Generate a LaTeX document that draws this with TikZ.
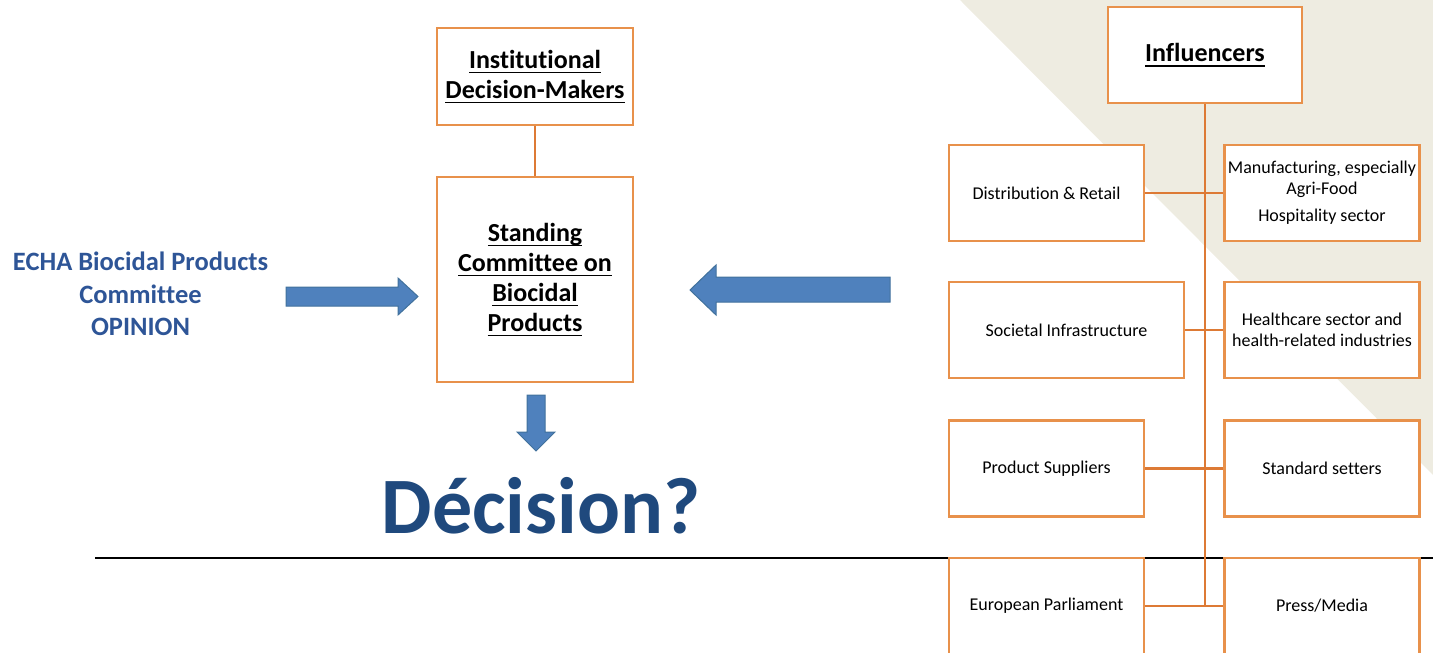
\documentclass[tikz,border=0pt]{standalone}
\usepackage{fontspec}
\setmainfont{Carlito}[Ligatures=NoCommon]
\definecolor{boxorange}{HTML}{E8914B}
\definecolor{linkorange}{HTML}{DD7A35}
\definecolor{arrowblue}{HTML}{4F81BD}
\definecolor{arrowedge}{HTML}{41719C}
\definecolor{titleblue}{HTML}{1F497D}
\definecolor{echablue}{HTML}{2E5597}
\definecolor{backtan}{HTML}{EEECE1}
\newcommand{\ulin}[1]{\setbox0\hbox{#1}\rlap{\copy0}\rule[-5pt]{\wd0}{1.3pt}}
\tikzset{
    bigbox/.style={draw=boxorange,line width=2.3pt,fill=white,align=center,minimum width=196pt,
        font=\fontsize{26}{30}\selectfont\bfseries},
    smallbox/.style={draw=boxorange,line width=2.3pt,fill=white,align=center,minimum width=195pt,
        minimum height=96pt,inner sep=1pt,font=\fontsize{18}{21}\selectfont},
    link/.style={draw=linkorange,line width=2.3pt},
    blockarrow/.style={fill=arrowblue,draw=arrowedge,line width=1pt,line join=miter}
}
\begin{document}
\begin{tikzpicture}[x=1pt,y=-1pt]
    \useasboundingbox (0,0) rectangle (1433,653);
    \fill[backtan] (960,0) -- (1433,0) -- (1433,475) -- cycle;
    \draw[line width=1.2pt] (95,558) -- (1433,558);

    \node[bigbox,minimum height=97pt] (IDM) at (535,76.5) {\ulin{Institutional}\\\ulin{Decision-Makers}};
    \node[bigbox,minimum height=205pt] (SCB) at (535,279.5) {\ulin{Standing}\\\ulin{Committee on}\\\ulin{Biocidal}\\\ulin{Products}};
    \node[text=echablue,align=center,font=\fontsize{26.5}{32.5}\selectfont\bfseries] (ECHA) at (140.5,294) {ECHA Biocidal Products\\Committee\\OPINION};
    \node[text=titleblue,anchor=base,font=\fontsize{80}{88}\selectfont\bfseries] (DEC) at (541,533) {Décision?};

    \node[bigbox,minimum width=194pt,minimum height=96pt] (INF) at (1205,55) {\ulin{Influencers}};
    \node[smallbox] (D1) at (1046.5,193) {Distribution \& Retail};
    \node[smallbox] (M1) at (1322,193) {Manufacturing, especially\\Agri-Food\\[6pt]Hospitality sector};
    \node[smallbox,minimum width=235pt] (S2) at (1066.5,330) {Societal Infrastructure};
    \node[smallbox] (H2) at (1322,330) {Healthcare sector and\\health-related industries};
    \node[smallbox] (P3) at (1046.5,468.5) {Product Suppliers};
    \node[smallbox] (T3) at (1322,468.5) {Standard setters};
    \node[smallbox] (E4) at (1046.5,606) {European Parliament};
    \node[smallbox] (PM4) at (1322,606) {Press/Media};

    % links
    \path[link] (IDM) -- (SCB);
    \path[link] (INF.south) -- (INF.south |- PM4.west);
    \path[link] (D1.east) -- (M1.west);
    \path[link] (S2.east) -- (H2.west);
    \path[link] (P3.east) -- (T3.west);
    \path[link] (E4.east) -- (PM4.west);

    % block arrows
    \draw[blockarrow] (286,287) -- (398,287) -- (398,278) -- (418,296.5) -- (398,315) -- (398,306) -- (286,306) -- cycle;
    \draw[blockarrow] (890,277) -- (716,277) -- (716,265) -- (690,290) -- (716,315) -- (716,302) -- (890,302) -- cycle;
    \draw[blockarrow] (527,395) -- (545,395) -- (545,432) -- (555,432) -- (536,451) -- (517,432) -- (527,432) -- cycle;
\end{tikzpicture}
\end{document}
